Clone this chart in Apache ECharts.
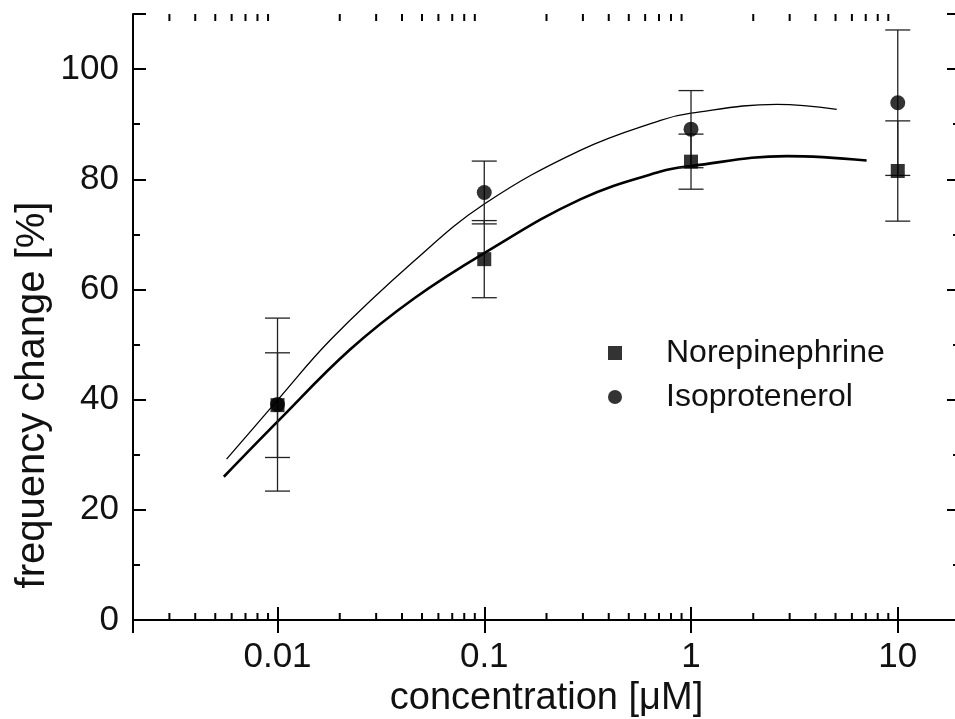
<!DOCTYPE html>
<html>
<head>
<meta charset="utf-8">
<script src="https://cdn.jsdelivr.net/npm/echarts@6/dist/echarts.min.js"></script>
<style>
html, body { margin: 0; padding: 0; background: #fff; }
#main { width: 955px; height: 719px; }
</style>
</head>
<body>
<div id="main"></div>
<script>
// measured points (concentration in uM)
var conc = [0.01, 0.1, 1, 10];
var neMean = [39.0, 65.5, 83.2, 81.5];
var neErr = [9.5, 7.0, 5.0, 9.1];
var isoMean = [39.1, 77.6, 89.1, 93.9];
var isoErr = [15.7, 5.7, 7.0, 13.2];

// fitted curves
var neFitX = [0.0055, 0.01, 0.0223, 0.0459, 0.1, 0.293, 0.712, 1, 2.91, 7.07];
var neFitY = [26.0, 36.0, 49.0, 58.4, 66.6, 76.4, 81.4, 82.4, 84.2, 83.4];
var isoFitX = [0.00567, 0.01, 0.0182, 0.0459, 0.1, 0.293, 0.712, 1, 2.6, 5.07];
var isoFitY = [29.2, 39.9, 51.0, 65.2, 75.5, 85.3, 90.7, 92.0, 93.6, 92.7];

// axis ticks
var xLabels = ['0.01', '0.1', '1', '10'];
var decades = [0.001, 0.01, 0.1, 1, 10];
var minorSteps = [2, 3, 4, 5, 6, 7, 8, 9];

var FONT = 'Liberation Sans';
var xMin = 0.002, xMax = 20, yMin = 0, yMax = 110;

function pairs(xs, ys) {
    return xs.map(function (x, i) { return [x, ys[i]]; });
}
function errData(xs, m, e) {
    return xs.map(function (x, i) { return [x, m[i] - e[i], m[i] + e[i]]; });
}

var minorTicks = [];
decades.forEach(function (d) {
    minorSteps.forEach(function (s) {
        var v = +(d * s).toPrecision(3);
        if (v > xMin && v < xMax) minorTicks.push([v, yMin]);
    });
});

function errRender(params, api) {
    var x = api.value(0);
    var top = api.coord([x, api.value(2)]);
    var bot = api.coord([x, api.value(1)]);
    var hw = 12.5;
    var st = { stroke: '#222', lineWidth: 1.3 };
    return {
        type: 'group',
        children: [
            { type: 'line', shape: { x1: top[0], y1: top[1], x2: bot[0], y2: bot[1] }, style: st },
            { type: 'line', shape: { x1: top[0] - hw, y1: top[1], x2: top[0] + hw, y2: top[1] }, style: st },
            { type: 'line', shape: { x1: bot[0] - hw, y1: bot[1], x2: bot[0] + hw, y2: bot[1] }, style: st }
        ]
    };
}

function minorRender(params, api) {
    var v = api.value(0);
    var b = api.coord([v, yMin]);
    var t = api.coord([v, yMax]);
    var st = { stroke: '#000', lineWidth: 2 };
    return {
        type: 'group',
        children: [
            { type: 'line', shape: { x1: b[0], y1: b[1], x2: b[0], y2: b[1] - 7 }, style: st },
            { type: 'line', shape: { x1: t[0], y1: t[1], x2: t[0], y2: t[1] + 7 }, style: st }
        ]
    };
}

function xFmt(v) {
    var l = Math.log10(v);
    if (Math.abs(l - Math.round(l)) > 1e-6) return '';
    var i = Math.round(l) + 2;
    return xLabels[i] || '';
}

var axisLine = { lineStyle: { color: '#000', width: 2 } };
var majorTick = { inside: true, length: 13, lineStyle: { color: '#000', width: 2 } };
var yMinor = { show: true, splitNumber: 2, length: 7, lineStyle: { color: '#000', width: 2 } };

var myChart = echarts.init(document.getElementById('main'));
option = {
    backgroundColor: '#fff',
    animation: false,
    grid: { left: 133, top: 14, width: 827, height: 606, outerBoundsMode: 'none' },
    legend: {
        orient: 'vertical',
        left: 603,
        top: 332,
        itemWidth: 14,
        itemHeight: 14,
        itemGap: 12,
        data: ['Norepinephrine', 'Isoprotenerol'],
        textStyle: { fontFamily: FONT, fontSize: 32, color: '#111', padding: [0, 0, 0, 39] }
    },
    graphic: [{
        type: 'text',
        x: 33,
        y: 395,
        rotation: Math.PI / 2,
        style: {
            text: 'frequency change [%]',
            font: '40px "Liberation Sans"',
            fill: '#111',
            align: 'center',
            verticalAlign: 'middle'
        }
    }],
    xAxis: [{
        type: 'log',
        logBase: 10,
        min: xMin,
        max: xMax,
        position: 'bottom',
        name: 'concentration [μM]',
        nameLocation: 'middle',
        nameGap: 57,
        nameTextStyle: { fontFamily: FONT, fontSize: 38, color: '#111' },
        axisLine: axisLine,
        axisTick: majorTick,
        axisLabel: { formatter: xFmt, fontFamily: FONT, fontSize: 35, color: '#111', margin: 20 },
        splitLine: { show: false }
    }, {
        type: 'log',
        logBase: 10,
        min: xMin,
        max: xMax,
        position: 'top',
        axisLine: axisLine,
        axisTick: majorTick,
        axisLabel: { show: false },
        splitLine: { show: false }
    }],
    yAxis: [{
        type: 'value',
        min: yMin,
        max: yMax,
        interval: 20,
        position: 'left',
        axisLine: axisLine,
        axisTick: majorTick,
        minorTick: yMinor,
        axisLabel: {
            fontFamily: FONT, fontSize: 35, color: '#111', margin: 14,
            formatter: function (v) { return v > 100 ? '' : String(v); }
        },
        splitLine: { show: false }
    }, {
        type: 'value',
        min: yMin,
        max: yMax,
        interval: 20,
        position: 'right',
        axisLine: axisLine,
        axisTick: majorTick,
        minorTick: yMinor,
        axisLabel: { show: false },
        splitLine: { show: false }
    }],
    series: [
        {
            name: 'minor ticks',
            type: 'custom',
            renderItem: minorRender,
            data: minorTicks,
            silent: true,
            clip: false,
            z: 5
        },
        {
            name: 'NE fit',
            type: 'line',
            data: pairs(neFitX, neFitY),
            smooth: 0.4,
            showSymbol: false,
            lineStyle: { color: '#000', width: 2.6 },
            z: 2
        },
        {
            name: 'ISO fit',
            type: 'line',
            data: pairs(isoFitX, isoFitY),
            smooth: 0.4,
            showSymbol: false,
            lineStyle: { color: '#000', width: 1.3 },
            z: 2
        },
        {
            name: 'NE err',
            type: 'custom',
            renderItem: errRender,
            data: errData(conc, neMean, neErr),
            z: 3
        },
        {
            name: 'ISO err',
            type: 'custom',
            renderItem: errRender,
            data: errData(conc, isoMean, isoErr),
            z: 3
        },
        {
            name: 'Isoprotenerol',
            type: 'scatter',
            symbol: 'circle',
            symbolSize: 15,
            data: pairs(conc, isoMean),
            itemStyle: { color: '#000' },
            z: 4
        },
        {
            name: 'Norepinephrine',
            type: 'scatter',
            symbol: 'rect',
            symbolSize: 14,
            data: pairs(conc, neMean),
            itemStyle: { color: '#000' },
            z: 4
        }
    ]
};
if (option && typeof option === "object") {
    myChart.setOption(option, true);
}
</script>
</body>
</html>
